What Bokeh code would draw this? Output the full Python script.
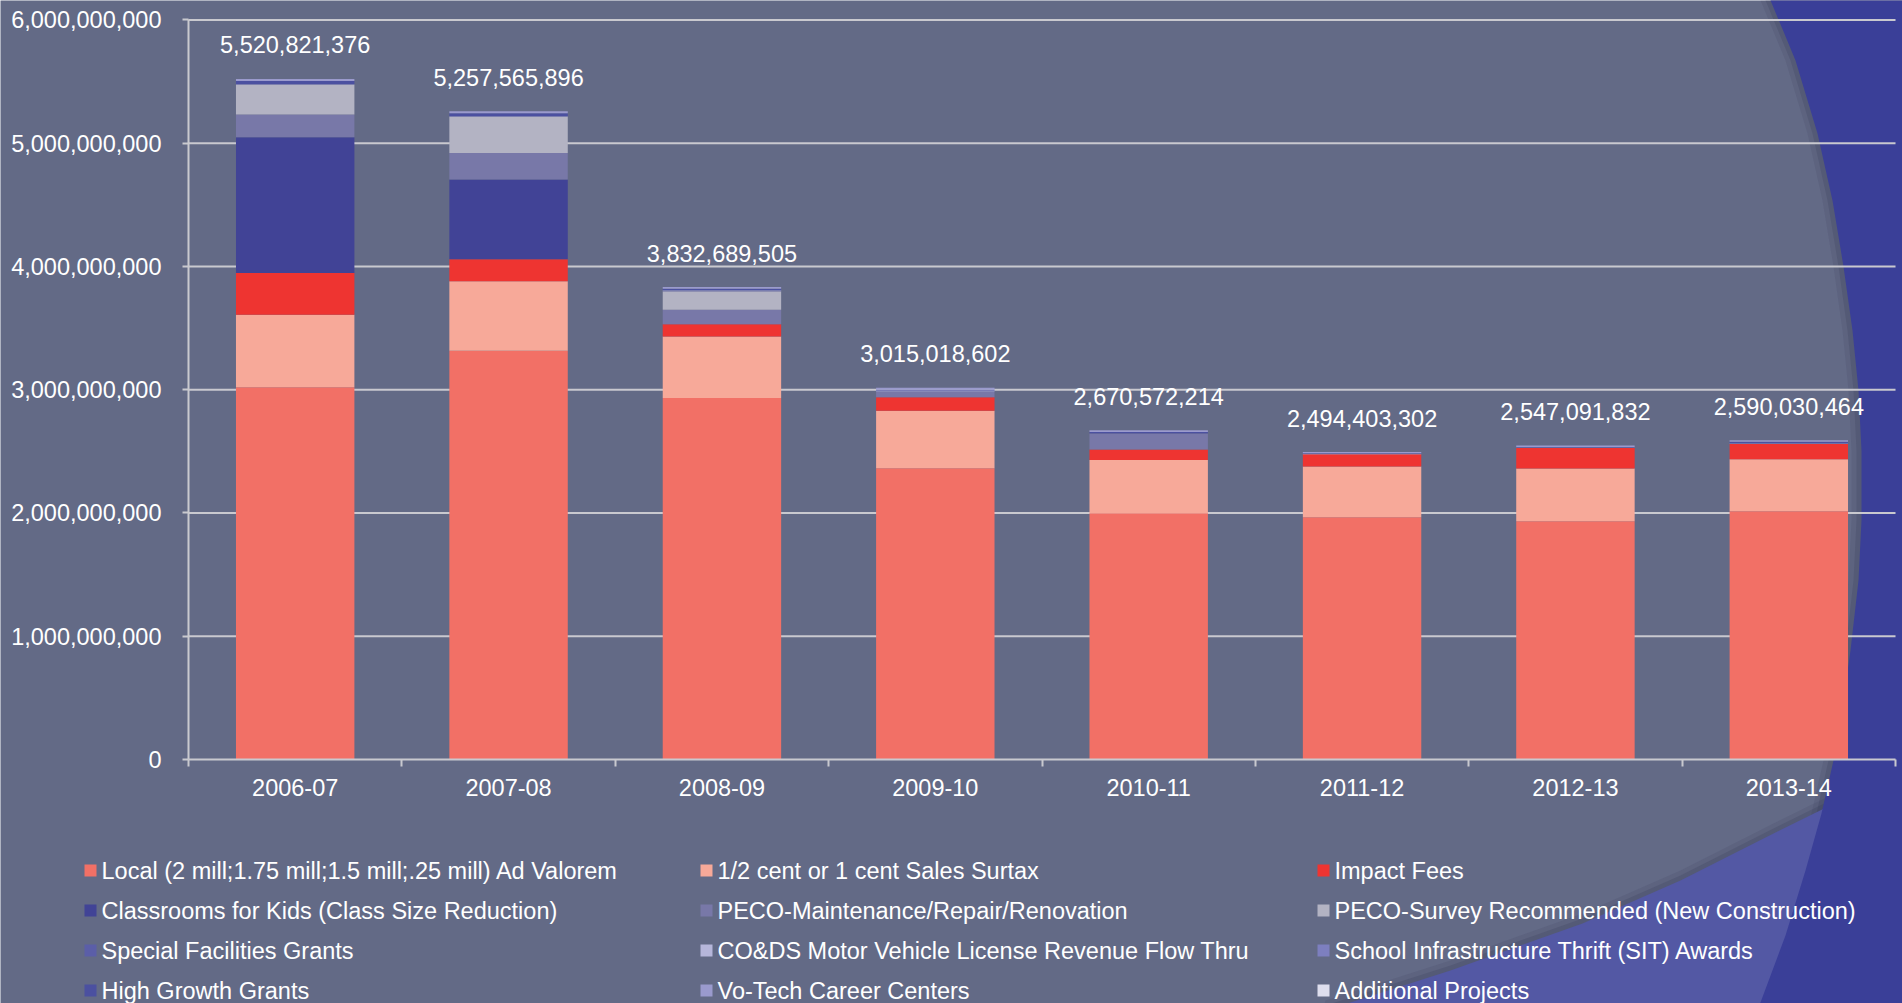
import re
from bokeh.plotting import figure
from bokeh.models import ColumnDataSource, FixedTicker, NumeralTickFormatter, Range1d
from bokeh.embed import file_html
from bokeh.resources import INLINE
from bokeh.core.properties import value

# ---------------- data ----------------
years = ["2006-07", "2007-08", "2008-09", "2009-10", "2010-11", "2011-12", "2012-13", "2013-14"]
totals = [5520821376, 5257565896, 3832689505, 3015018602, 2670572214, 2494403302, 2547091832, 2590030464]

series_names = [
    "Local (2 mill;1.75 mill;1.5 mill;.25 mill) Ad Valorem",
    "1/2 cent or 1 cent Sales Surtax",
    "Impact Fees",
    "Classrooms for Kids (Class Size Reduction)",
    "PECO-Maintenance/Repair/Renovation",
    "PECO-Survey Recommended (New Construction)",
    "Special Facilities Grants",
    "CO&DS Motor Vehicle License Revenue Flow Thru",
    "School Infrastructure Thrift (SIT) Awards",
    "High Growth Grants",
    "Vo-Tech Career Centers",
    "Additional Projects",
]
series_colors = ["#F27066", "#F7A999", "#EE3431", "#414396", "#7878A8", "#B3B3C3",
                 "#5B5EA8", "#B6B6DA", "#7D7FBF", "#4B50A0", "#9A9ACD", "#DEDEEE"]

# values in millions of dollars
local_ad_valorem    = [3020, 3315, 2933, 2362, 1997, 1965, 1933, 2014]
sales_surtax        = [589, 564, 498, 468, 433, 411, 427, 422]
impact_fees         = [337, 179, 99, 108, 84, 100, 167, 124]
classrooms_for_kids = [1101, 648, 0, 0, 0, 0, 0, 0]
peco_maintenance    = [186, 214, 119, 43, 130, 0, 0, 0]
peco_survey         = [241, 292, 149, 0, 0, 0, 0, 0]
special_facilities  = [3, 3, 3, 2, 2, 0, 0, 0]
cods_motor_vehicle  = [3, 3, 3, 4, 0, 2, 3, 2]
sit_awards          = [0, 0, 2, 8, 0, 3, 2, 3]
high_growth         = [25, 25, 12, 5, 10, 3, 3, 12]
vo_tech             = [16, 15, 15, 15, 15, 10, 12, 13]
additional_projects = [0, 0, 0, 0, 0, 0, 0, 0]

series_values = [local_ad_valorem, sales_surtax, impact_fees, classrooms_for_kids,
                 peco_maintenance, peco_survey, special_facilities, cods_motor_vehicle,
                 sit_awards, high_growth, vo_tech, additional_projects]

y_ticks = [0, 1e9, 2e9, 3e9, 4e9, 5e9, 6e9]

# ---------------- styling / layout ----------------
BG = "#636A86"
GRID = "#C9C9CF"
DARK = "#3A3F98"
BAND = "#5358A4"
SHADOW = "#2E3350"
FONT = "Liberation Sans"
FS = "23.5px"

W, H = 1902, 1003
AX_L, AX_R, ZERO_Y = 188, 1895, 759               # page px of x=0, x=8 and value 0
Y_TOP_TICK = 19.4                                 # page px of the 6e9 gridline
n = len(years)
cat_w = (AX_R - AX_L) / n
ppu = (ZERO_Y - Y_TOP_TICK) / 6e9                 # pixels per dollar

# slide decoration outline (page pixels)
arc_x = [1768, 1795, 1817, 1832, 1843, 1852, 1858, 1861, 1861, 1858, 1850, 1840, 1833, 1821, 1805, 1785, 1757]
arc_y = [-5, 60, 133, 200, 266, 330, 390, 450, 520, 580, 650, 720, 760, 813, 870, 935, 1010]
diag_x = [1325, 1450, 1582, 1680, 1773, 1850, 1910]
diag_y = [1010, 970, 923, 880, 833, 795, 765]

def dark_shape(off=0):
    return ([x - off for x in arc_x] + [1915, 1915], list(arc_y) + [1015, -10])

def band_shape(off=0):
    return (list(diag_x) + [1915, 1320], [y - off for y in diag_y] + [1015, 1015])

# ================= figure =================
keys = [f"s{i}" for i in range(len(series_names))]
data = {"x": [i + 0.5 for i in range(n)]}
for k, vals in zip(keys, series_values):
    data[k] = [v * 1e6 for v in vals]
source = ColumnDataSource(data)

lab_src = ColumnDataSource(dict(
    x=[i + 0.5 for i in range(n)],
    y=totals,
    t=[f"{v:,}" for v in totals],
))

p = figure(width=W, height=H, output_backend="svg", toolbar_location=None,
           x_range=Range1d(-AX_L / cat_w, n + (W - AX_R) / cat_w),
           y_range=Range1d(-(H - ZERO_Y) / ppu, ZERO_Y / ppu),
           min_border_left=0, min_border_right=0, min_border_top=0, min_border_bottom=0)
p.extra_x_ranges = {"px": Range1d(0, W)}
p.extra_y_ranges = {"py": Range1d(H, 0)}
p.background_fill_color = BG
p.border_fill_color = BG
p.outline_line_color = None
p.grid.visible = False

# background decoration
def deco(shape, color, alpha):
    xs, ys = shape
    r = p.patch(xs, ys, fill_color=color, fill_alpha=alpha, line_color=None,
                x_range_name="px", y_range_name="py")
    r.level = "image"

for off, a in [(10, 0.12), (5, 0.18)]:
    deco(dark_shape(off), SHADOW, a)
for off, a in [(10, 0.12), (5, 0.18)]:
    deco(band_shape(off), SHADOW, a)
deco(band_shape(), BAND, 1)
deco(dark_shape(), DARK, 1)

# gridlines at the y ticks, spanning the category axis only
grid_src = ColumnDataSource(dict(y=y_ticks[1:], x0=[0] * (len(y_ticks) - 1),
                                 x1=[n] * (len(y_ticks) - 1)))
gr = p.segment(x0="x0", x1="x1", y0="y", y1="y", source=grid_src,
               line_color=GRID, line_width=2)
gr.level = "underlay"

# stacked bars
p.vbar_stack(keys, x="x", width=0.555, color=series_colors, line_color=None, source=source)

# totals above the bars
p.text(x="x", y="y", text="t", source=lab_src, y_offset=-34,
       text_align="center", text_baseline="alphabetic",
       text_font=value(FONT), text_font_size=FS, text_color="white")

# axes
yax = p.yaxis[0]
yax.fixed_location = 0
yax.bounds = (0, 6e9)
yax.ticker = FixedTicker(ticks=y_ticks)
yax.formatter = NumeralTickFormatter(format="0,0")
yax.axis_line_color = GRID
yax.axis_line_width = 2
yax.major_tick_line_color = GRID
yax.major_tick_line_width = 2
yax.major_tick_out = 6
yax.major_tick_in = 0
yax.minor_tick_line_color = None
yax.major_label_standoff = 21
yax.major_label_text_font = FONT
yax.major_label_text_font_size = FS
yax.major_label_text_color = "white"

xax = p.xaxis[0]
xax.fixed_location = 0
xax.bounds = (0, n)
xax.ticker = FixedTicker(ticks=[i + 0.5 for i in range(n)], minor_ticks=list(range(n + 1)))
xax.major_label_overrides = {i + 0.5: y for i, y in enumerate(years)}
xax.axis_line_color = GRID
xax.axis_line_width = 2
xax.major_tick_line_color = None
xax.major_tick_out = 0
xax.major_tick_in = 0
xax.minor_tick_line_color = GRID
xax.minor_tick_line_width = 2
xax.minor_tick_out = 7
xax.minor_tick_in = 0
xax.major_label_standoff = 12
xax.major_label_text_font = FONT
xax.major_label_text_font_size = FS
xax.major_label_text_color = "white"

# legend: 3 columns x 4 rows, row-major (page pixel positions)
col_sq_x = [84, 700, 1317]
col_tx_x = [101, 717, 1334]
row_y = [870, 910, 950, 990]
leg = dict(l=[], r=[], t=[], b=[], c=[], tx=[], ty=[], name=[])
for i, (name, colr) in enumerate(zip(series_names, series_colors)):
    r, c = divmod(i, 3)
    Y = row_y[r]
    leg["l"].append(col_sq_x[c]); leg["r"].append(col_sq_x[c] + 12)
    leg["t"].append(Y - 6); leg["b"].append(Y + 6)
    leg["c"].append(colr)
    leg["tx"].append(col_tx_x[c]); leg["ty"].append(Y)
    leg["name"].append(name)
leg_src = ColumnDataSource(leg)
p.quad(left="l", right="r", top="t", bottom="b", fill_color="c", line_color=None,
       source=leg_src, x_range_name="px", y_range_name="py")
p.text(x="tx", y="ty", text="name", source=leg_src, text_align="left", text_baseline="middle",
       text_font=value(FONT), text_font_size=FS, text_color="white",
       x_range_name="px", y_range_name="py")

html = file_html(p, INLINE)
html = re.sub(r"<body([^>]*)>", r'<body\1 style="background-color:%s;">' % BG, html, count=1)
open("out.html", "w").write(html)
